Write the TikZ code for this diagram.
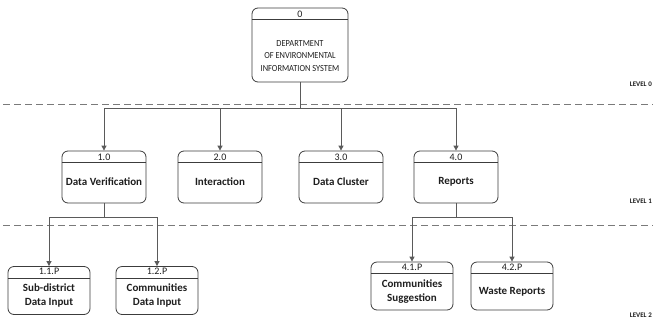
\documentclass[tikz,border=0pt]{standalone}
\usepackage{fontspec}
\setmainfont{Carlito}
\newfontfamily\condfont[FakeStretch=0.9]{Carlito}
\usetikzlibrary{arrows.meta}
\definecolor{boxc}{HTML}{3C3C3C}
\definecolor{linec}{HTML}{5A5A5A}
\definecolor{dashc}{HTML}{7A7A7A}
\definecolor{txt}{HTML}{1E1E1E}
\tikzset{
  pbox/.style={draw=boxc, line width=0.8pt, rounded corners=6pt, inner sep=0pt},
  numtxt/.style={font=\fontsize{10}{11}\selectfont, text=txt, inner sep=0pt},
  ttl/.style={font=\bfseries\fontsize{11}{14}\selectfont, text=txt, align=center, inner sep=0pt},
  toptxt/.style={font=\condfont\fontsize{9.3}{12.5}\selectfont, text=txt, align=center, inner sep=0pt},
  conn/.style={draw=linec, line width=0.8pt},
  arr/.style={conn, -{Triangle[length=5pt,width=5pt]}},
  lvl/.style={font=\bfseries\fontsize{7}{8}\selectfont, text=txt, inner sep=0pt, anchor=east},
  sep/.style={draw=dashc, line width=1pt, dash pattern=on 7pt off 4pt}
}
\begin{document}
\begin{tikzpicture}[x=1pt,y=-1pt]
\useasboundingbox (0,0) rectangle (653,322);
% separators
\coordinate (s0l) at (3,104); \coordinate (s0r) at (653,104);
\coordinate (s1l) at (3,225); \coordinate (s1r) at (653,225);
\draw[sep] (s0l) -- (s0r);
\draw[sep] (s1l) -- (s1r);
% level labels
\node[lvl] (l0) at (652,84) {LEVEL 0};
\node[lvl] (l1) at (652,201) {LEVEL 1};
\node[lvl] (l2) at (652,315) {LEVEL 2};
% top box
\node[pbox, minimum width=96pt, minimum height=74pt] (b0) at (300,45) {};
\draw[boxc, line width=0.8pt] ([yshift=-12pt]b0.north west) -- ([yshift=-12pt]b0.north east);
\node[numtxt] (n0) at (300,14.5) {0};
\node[toptxt] (t0) at (300,56) {DEPARTMENT\\OF ENVIRONMENTAL\\INFORMATION SYSTEM};
% level 1 boxes
\foreach \nm/\cx/\num/\ttl in {b1/104/1.0/Data Verification, b2/220/2.0/Interaction, b3/341/3.0/Data Cluster, b4/456/4.0/Reports}{
  \node[pbox, minimum width=84pt, minimum height=52pt] (\nm) at (\cx,177) {};
  \draw[boxc, line width=0.8pt] ([yshift=-12pt]\nm.north west) -- ([yshift=-12pt]\nm.north east);
  \node[numtxt] (\nm n) at (\cx,157.5) {\num};
  \node[ttl] (\nm t) at (\cx,182) {\ttl};
}
% level 2 boxes
\foreach \nm/\cx/\cy/\num/\ttl in {b11/49/290.5/1.1.P/{Sub-district\\Data Input}, b12/157/290.5/1.2.P/{Communities\\Data Input}, b41/412/286/4.1.P/{Communities\\Suggestion}, b42/512/286/4.2.P/{Waste Reports}}{
  \node[pbox, minimum width=82pt, minimum height=48pt] (\nm) at (\cx,\cy) {};
  \draw[boxc, line width=0.8pt] ([yshift=-12pt]\nm.north west) -- ([yshift=-12pt]\nm.north east);
  \node[numtxt, anchor=north] (\nm n) at ([yshift=-2pt]\nm.north) {\num};
  \node[ttl, anchor=north, minimum height=32pt] (\nm t) at ([yshift=-13.5pt]\nm.north) {\ttl};
}
% connectors level 0 -> 1
\coordinate (j0) at (b0.south |- 0,108);
\draw[conn] (b0.south) -- (j0);
\draw[arr] (j0) -| (b1.north);
\draw[arr] (j0) -| (b2.north);
\draw[arr] (j0) -| (b3.north);
\draw[arr] (j0) -| (b4.north);
% connectors level 1 -> 2
\coordinate (j1) at (b1.south |- 0,217);
\draw[conn] (b1.south) -- (j1);
\draw[arr] (j1) -| (b11.north);
\draw[arr] (j1) -| (b12.north);
\coordinate (j4) at (b4.south |- 0,217);
\draw[conn] (b4.south) -- (j4);
\draw[arr] (j4) -| (b41.north);
\draw[arr] (j4) -| (b42.north);
\end{tikzpicture}
\end{document}
